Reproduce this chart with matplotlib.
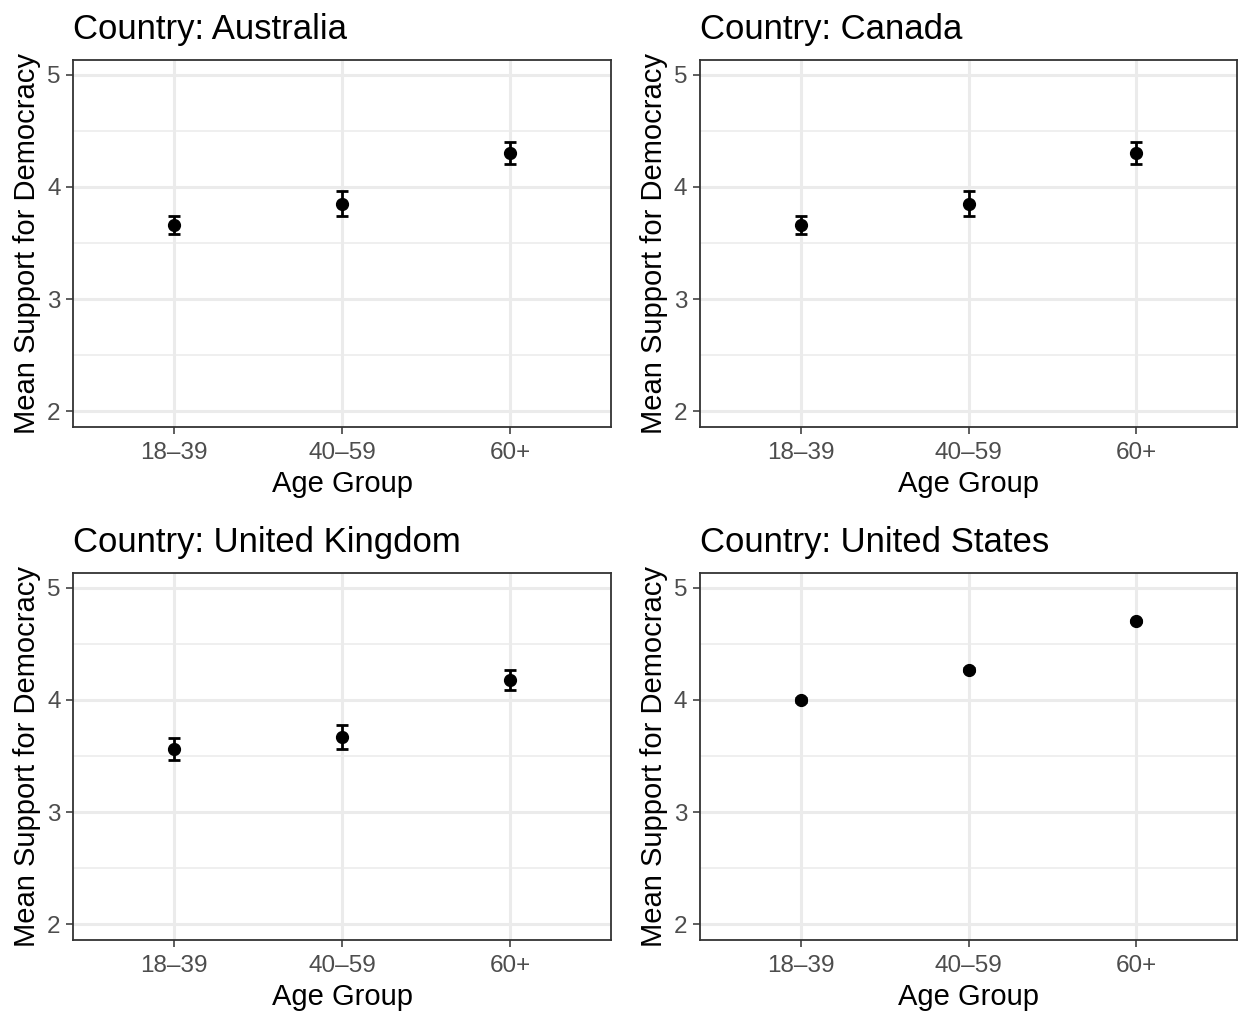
"""Mean support for democracy by age group, one panel per country (ggplot theme_bw look)."""
import matplotlib
matplotlib.use("Agg")
import matplotlib.pyplot as plt
from matplotlib.ticker import MultipleLocator

plt.rcParams["font.family"] = ["Liberation Sans", "DejaVu Sans"]

AGE_GROUPS = ["18–39", "40–59", "60+"]
COUNTRIES = ["Australia", "Canada", "United Kingdom", "United States"]

# means and half-widths of the error bars
MEANS = {
    "Australia": [3.66, 3.85, 4.30],
    "Canada": [3.66, 3.85, 4.30],
    "United Kingdom": [3.56, 3.67, 4.18],
    "United States": [4.00, 4.27, 4.70],
}
ERRS = {
    "Australia": [0.08, 0.11, 0.10],
    "Canada": [0.08, 0.11, 0.10],
    "United Kingdom": [0.10, 0.11, 0.09],
    "United States": [0.02, 0.01, 0.01],
}

W, H = 1238, 1011
fig = plt.figure(figsize=(W / 100, H / 100), dpi=100)

# axes boxes in pixels: left, top, right, bottom
BOXES = [(73, 60, 611, 427), (700, 60, 1237, 427),
         (73, 573, 611, 940), (700, 573, 1237, 940)]

for country, (l, t, r, b) in zip(COUNTRIES, BOXES):
    ax = fig.add_axes([l / W, 1 - b / H, (r - l) / W, (b - t) / H])
    x = range(1, len(AGE_GROUPS) + 1)
    ax.errorbar(x, MEANS[country], yerr=ERRS[country], fmt="o", color="black",
                markersize=8.5, elinewidth=2, capsize=4, capthick=2, zorder=3)
    ax.set_xlim(0.4, 3.6)
    ax.set_ylim(1.86, 5.13)
    ax.set_xticks(list(x))
    ax.set_xticklabels(AGE_GROUPS)
    ax.yaxis.set_major_locator(MultipleLocator(1))
    ax.yaxis.set_minor_locator(MultipleLocator(0.5))
    ax.grid(which="major", color="#EBEBEB", linewidth=2.2, zorder=0)
    ax.grid(which="minor", axis="y", color="#EBEBEB", linewidth=1.1, zorder=0)
    ax.tick_params(which="minor", length=0)
    ax.tick_params(which="major", length=5, width=1.1, color="#333333",
                   labelsize=17.5, labelcolor="#4D4D4D", pad=4)
    ax.tick_params(axis="x", pad=6)
    for s in ax.spines.values():
        s.set_color("#333333")
        s.set_linewidth(1.3)
    ax.set_axisbelow(True)
    ax.set_xlabel("Age Group", fontsize=21, labelpad=4)
    ax.set_ylabel("Mean Support for Democracy", fontsize=21, labelpad=4)
    ax.set_title(f"Country: {country}", fontsize=25, loc="left", pad=15)

fig.savefig("out.png", dpi=100, facecolor="white")
